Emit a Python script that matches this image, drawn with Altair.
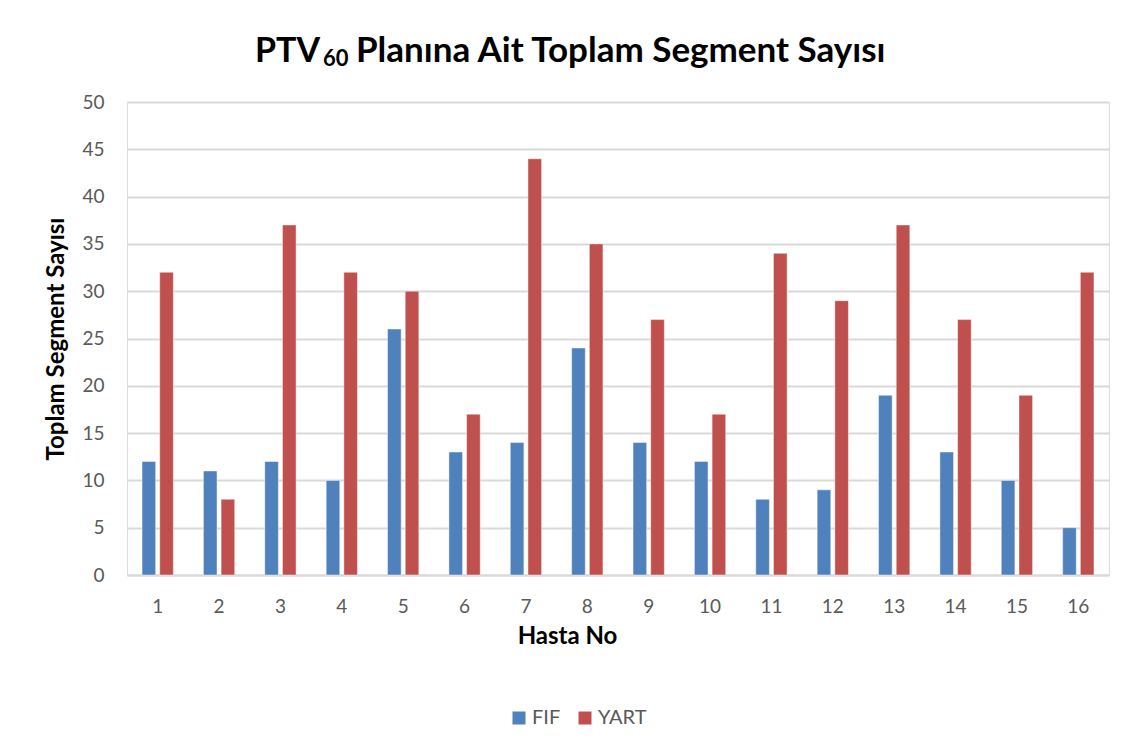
import altair as alt
import pandas as pd

patients = [str(i) for i in range(1, 17)]
fif = [12, 11, 12, 10, 26, 13, 14, 24, 14, 12, 8, 9, 19, 13, 10, 5]
yart = [32, 8, 37, 32, 30, 17, 44, 35, 27, 17, 34, 29, 37, 27, 19, 32]
series = ["FIF", "YART"]
colors = ["#4F81BD", "#C0504D"]
y_ticks = list(range(0, 55, 5))

rows = []
for p, a, b in zip(patients, fif, yart):
    rows.append({"Hasta": p, "Seri": "FIF", "Deger": a})
    rows.append({"Hasta": p, "Seri": "YART", "Deger": b})
df = pd.DataFrame(rows)

FONT = "Lato"
LABEL_COLOR = "#595959"
GRID = "#D9D9D9"

bars = alt.Chart(df).mark_bar(stroke="white", strokeOpacity=0.45, strokeWidth=1).encode(
    x=alt.X("Hasta:N", sort=patients,
            scale=alt.Scale(paddingInner=0.49, paddingOuter=0.245),
            axis=alt.Axis(title="Hasta No", labelAngle=0, labelFont=FONT, labelFontSize=19,
                          labelColor=LABEL_COLOR, labelPadding=22, ticks=False,
                          domainColor=GRID, domainWidth=2,
                          titleFont=FONT, titleFontSize=24, titleFontWeight="bold",
                          titleColor="#000000", titleX=440, titleY=68,
                          titleBaseline="alphabetic")),
    xOffset=alt.XOffset("Seri:N", sort=series, scale=alt.Scale(paddingInner=0.23, paddingOuter=0)),
    y=alt.Y("Deger:Q",
            scale=alt.Scale(domain=[0, 50], nice=False),
            axis=alt.Axis(title="Toplam Segment Sayısı", values=y_ticks, labelFont=FONT,
                          labelFontSize=19, labelColor=LABEL_COLOR, labelPadding=23,
                          ticks=False, domain=False, gridColor=GRID, gridWidth=2,
                          titleFont=FONT, titleFontSize=24, titleFontWeight="bold",
                          titleColor="#000000", titleX=-64, titleBaseline="alphabetic")),
    color=alt.Color("Seri:N", sort=series,
                    scale=alt.Scale(domain=series, range=colors),
                    legend=alt.Legend(title=None, orient="none", direction="horizontal",
                                      legendX=382, legendY=606, padding=0,
                                      symbolType="square", symbolSize=169,
                                      symbolStrokeWidth=0, labelFont=FONT,
                                      labelFontSize=20, labelColor=LABEL_COLOR,
                                      labelOffset=3, columnPadding=14)),
)

t_main = alt.Chart(pd.DataFrame({"t": ["PTV"]})).mark_text(
    font=FONT, fontSize=34, fontWeight="bold", align="right", baseline="alphabetic", color="#000000"
).encode(text="t:N", x=alt.value(193), y=alt.value(-40))

t_sub = alt.Chart(pd.DataFrame({"t": ["60"]})).mark_text(
    font=FONT, fontSize=22, fontWeight="bold", align="left", baseline="alphabetic", color="#000000"
).encode(text="t:N", x=alt.value(196), y=alt.value(-36))

t_rest = alt.Chart(pd.DataFrame({"t": ["Planına Ait Toplam Segment Sayısı"]})).mark_text(
    font=FONT, fontSize=35, fontWeight="bold", align="left", baseline="alphabetic", color="#000000"
).encode(text="t:N", x=alt.value(229), y=alt.value(-40))

chart = alt.layer(bars, t_main, t_sub, t_rest).properties(
    width=982, height=473,
    autosize=alt.AutoSizeParams(type="none"),
    padding={"left": 119, "top": 94, "right": 22, "bottom": 172},
).configure_view(stroke=None).configure(background="white")

chart.save("out.html", embed_options={"renderer": "svg", "actions": False})
